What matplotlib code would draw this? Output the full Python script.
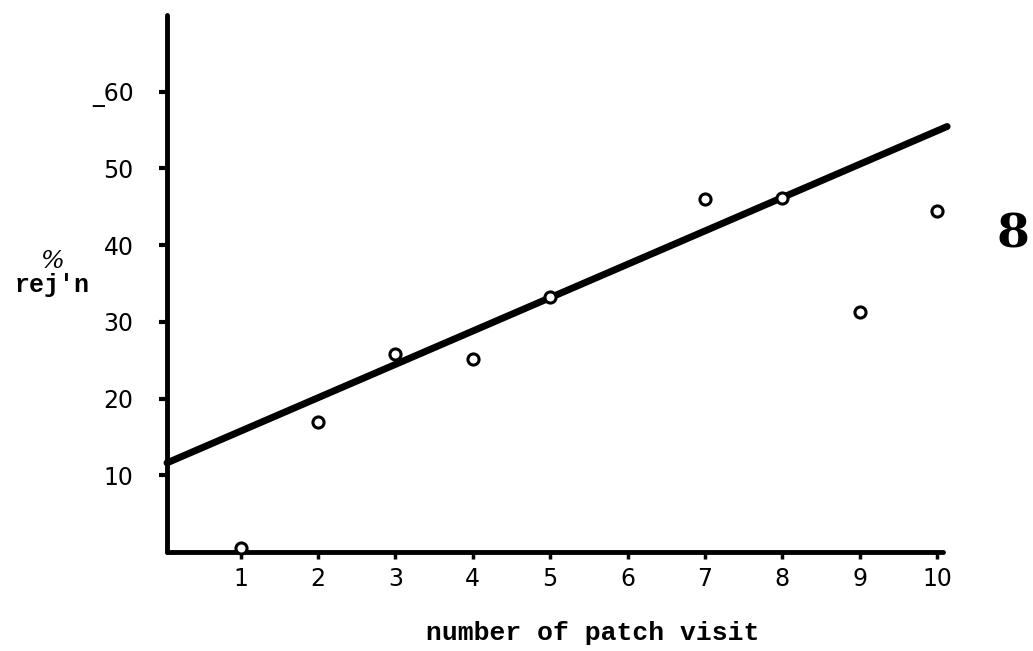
import matplotlib
matplotlib.use("Agg")
import matplotlib.pyplot as plt
import numpy as np

# Percentage of rejections by patch visit number
visit = [1, 2, 3, 4, 5, 7, 8, 9, 10]
rejection_pct = [0.5, 17.0, 25.8, 25.2, 33.3, 46.0, 46.2, 31.3, 44.4]

# Fitted trend line (intercept, slope) and the span it is drawn over
fit_intercept = 11.4
fit_slope = 4.35
fit_span = [0.05, 10.13]

x_ticks = [1, 2, 3, 4, 5, 6, 7, 8, 9, 10]
x_tick_labels = ["1", "2", "3", "4", "5", "6", "7", "8", "9", "10"]
y_ticks = [10, 20, 30, 40, 50, 60]
y_tick_labels = ["10", "20", "30", "40", "50", "_60"]

fig = plt.figure(figsize=(10.33, 6.51), dpi=100)
ax = fig.add_axes([167 / 1033, 99 / 651, 775.5 / 1033, 537 / 651])

ax.set_xlim(0.05, 10.07)
ax.set_ylim(0, 70)

fx = np.array(fit_span)
ax.plot(fx, fit_intercept + fit_slope * fx, color="black", lw=5.0,
        solid_capstyle="round", clip_on=False, zorder=3)

ax.plot(visit, rejection_pct, linestyle="none", marker="o", markersize=8,
        markerfacecolor="white", markeredgecolor="black", markeredgewidth=2.2,
        clip_on=False, zorder=4)

for side in ("top", "right"):
    ax.spines[side].set_visible(False)
for side in ("left", "bottom"):
    ax.spines[side].set_linewidth(3.5)
    ax.spines[side].set_capstyle("round")

ax.set_xticks(x_ticks)
ax.set_xticklabels(x_tick_labels, fontsize=17, fontfamily="DejaVu Sans")
ax.set_yticks(y_ticks)
ax.set_yticklabels(y_tick_labels, fontsize=17, fontfamily="DejaVu Sans")
ax.tick_params(axis="y", direction="out", length=6, width=3, pad=18)
ax.tick_params(axis="x", direction="out", length=5, width=2.5, pad=6)

# Axis titles set in a bold typewriter face
fig.text(593 / 1033, 1 - 633 / 651, "number of patch visit",
         fontsize=19, fontweight="bold", fontfamily="Liberation Mono",
         ha="center", va="center")
fig.text(52 / 1033, 1 - 262 / 651, "%", fontsize=18, fontstyle="italic",
         fontfamily="DejaVu Serif", ha="center", va="center")
fig.text(52 / 1033, 1 - 285 / 651, "rej'n", fontsize=18, fontweight="bold",
         fontfamily="Liberation Mono", ha="center", va="center")

# Panel number at the right margin
fig.text(1013 / 1033, 1 - 235 / 651, "8", fontsize=34, fontweight="bold",
         fontfamily="DejaVu Serif", ha="center", va="center")

fig.savefig("out.png", dpi=100, facecolor="white")
